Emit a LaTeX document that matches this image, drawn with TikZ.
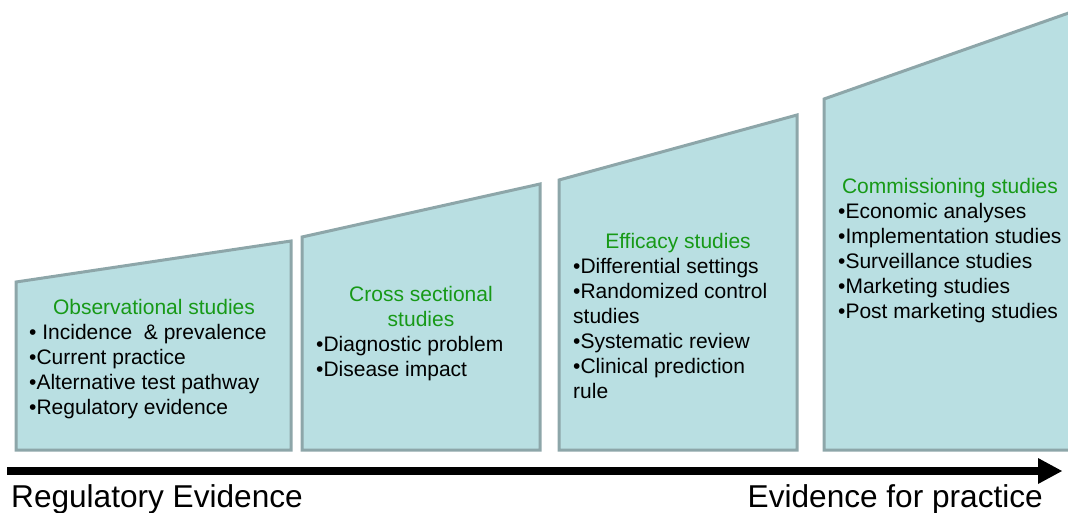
\documentclass[tikz,border=0pt]{standalone}
\usepackage{fontspec}
\usetikzlibrary{calc}
\setmainfont{Liberation Sans}
\definecolor{panelfill}{HTML}{B9DFE2}
\definecolor{paneledge}{HTML}{8DA6A9}
\definecolor{headgreen}{HTML}{179917}
\tikzset{
  panel/.style={fill=panelfill, draw=paneledge, line width=3pt, line join=miter},
  txt/.style={inner sep=0pt, font=\fontsize{21}{25}\selectfont},
  head/.style={txt, text=headgreen, anchor=base},
  item/.style={txt, anchor=base west},
  axislabel/.style={inner sep=0pt, font=\fontsize{31.6}{37}\selectfont},
}
\begin{document}
\begin{tikzpicture}[x=1pt, y=-1pt]
\useasboundingbox (0,0) rectangle (1068,512);

% stepped panels, each taller than the last
\draw[panel] (16,450) -- (16,282) -- (291,241) -- (291,450) -- cycle;
\draw[panel] (302,450) -- (302,237) -- (540,184) -- (540,450) -- cycle;
\draw[panel] (559,450) -- (559,180) -- (797,115) -- (797,450) -- cycle;
\draw[panel] (824,450) -- (824,99) -- (1080,9) -- (1080,450) -- cycle;

% observational studies
\node[head] (h1) at (154,314) {Observational studies};
\node[item] (a1) at (29,339) {•\ Incidence\ \ \& prevalence};
\node[item] (a2) at (29,364) {•Current practice};
\node[item] (a3) at (29,389) {•Alternative test pathway};
\node[item] (a4) at (29,414) {•Regulatory evidence};

% cross sectional studies
\node[head] (h2) at (421,301) {Cross sectional};
\node[head] (h2b) at (421,326) {studies};
\node[item] (b1) at (316,351) {•Diagnostic problem};
\node[item] (b2) at (316,376) {•Disease impact};

% efficacy studies
\node[head] (h3) at (678,248) {Efficacy studies};
\node[item] (c1) at (573,273) {•Differential settings};
\node[item] (c2) at (573,298) {•Randomized control};
\node[item] (c3) at (573,323) {studies};
\node[item] (c4) at (573,348) {•Systematic review};
\node[item] (c5) at (573,373) {•Clinical prediction};
\node[item] (c6) at (573,398) {rule};

% commissioning studies
\node[head] (h4) at (950,193) {Commissioning studies};
\node[item] (d1) at (838,218) {•Economic analyses};
\node[item] (d2) at (838,243) {•Implementation studies};
\node[item] (d3) at (838,268) {•Surveillance studies};
\node[item] (d4) at (838,293) {•Marketing studies};
\node[item] (d5) at (838,318) {•Post marketing studies};

% evidence axis
\coordinate (axstart) at (7,471);
\coordinate (axbase) at (1038,471);
\coordinate (axtip) at (1062,471);
\draw[line width=8.5pt] (axstart) -- (axbase);
\fill (axtip) -- ($(axbase)+(0,-13)$) -- ($(axbase)+(0,13)$) -- cycle;

\node[axislabel, anchor=base west] (left) at (11,507) {Regulatory Evidence};
\node[axislabel, anchor=base east] (right) at (1043,507) {Evidence for practice};
\end{tikzpicture}
\end{document}
